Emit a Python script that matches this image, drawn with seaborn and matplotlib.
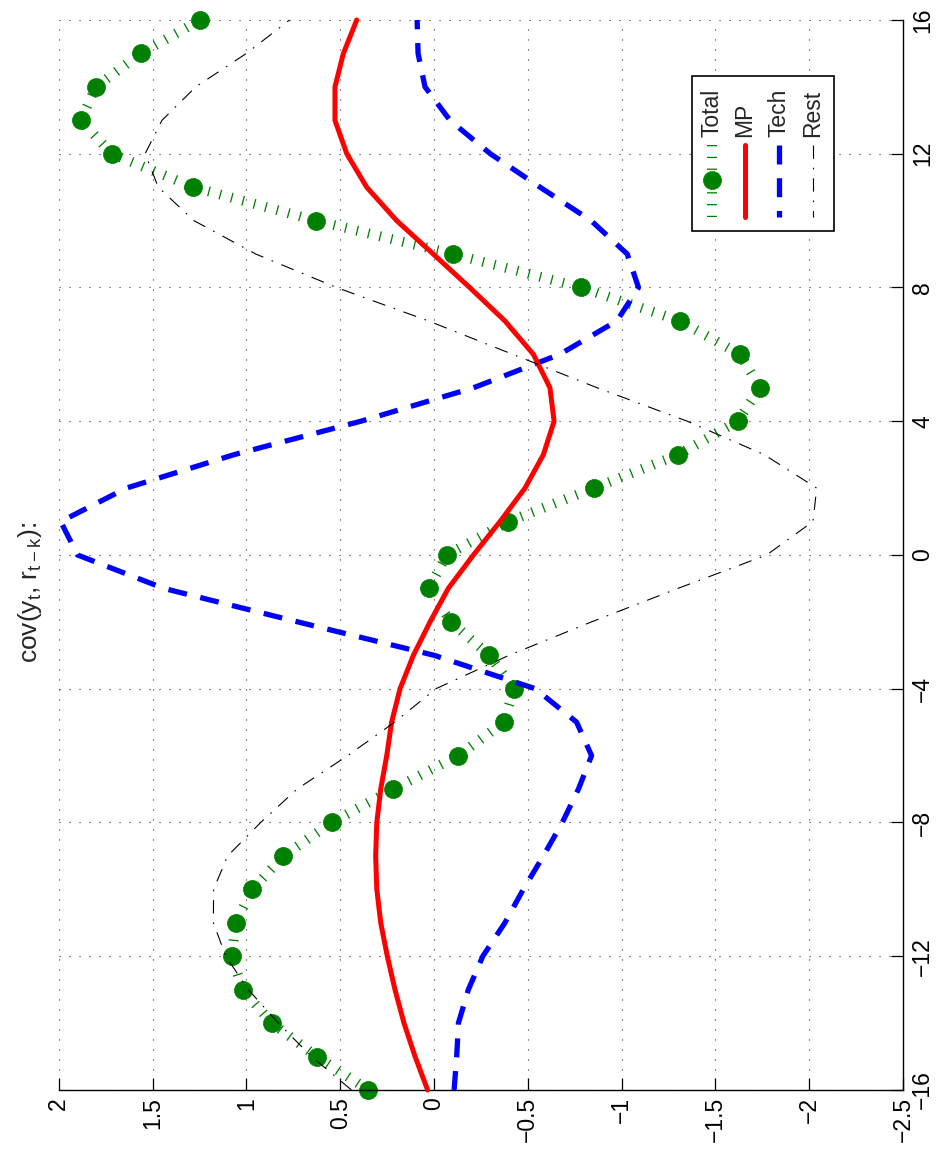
import numpy as np
import pandas as pd
import matplotlib
matplotlib.use("Agg")
import matplotlib.pyplot as plt
import seaborn as sns
from matplotlib.patches import Rectangle
from matplotlib.lines import Line2D

# ---------------- data ----------------
lags = list(range(-16, 17))
total = [0.35, 0.625, 0.865, 1.02, 1.078, 1.057, 0.969, 0.803, 0.545, 0.217, -0.13,
         -0.373, -0.426, -0.295, -0.089, 0.028,
         -0.068, -0.396, -0.853, -1.302, -1.619, -1.738, -1.631, -1.311, -0.784,
         -0.103, 0.631, 1.283, 1.718, 1.882, 1.803, 1.563, 1.247]
mp = [0.034, 0.101, 0.16, 0.208, 0.249, 0.284, 0.305, 0.311, 0.305, 0.284, 0.252,
      0.226, 0.181, 0.11, 0.021, -0.076,
      -0.21, -0.352, -0.485, -0.583, -0.64, -0.618, -0.53, -0.378, -0.19,
      0.004, 0.199, 0.359, 0.465, 0.528, 0.528, 0.483, 0.412]
tech = [-0.107, -0.121, -0.13, -0.183, -0.26, -0.378, -0.476, -0.583, -0.684, -0.77,
        -0.84, -0.76, -0.54, 0.0, 0.727, 1.44,
        1.90, 1.99, 1.64, 1.066, 0.39, -0.21, -0.67, -0.975, -1.09,
        -1.03, -0.837, -0.565, -0.30, -0.085, 0.048, 0.085, 0.09]
rest = [0.44, 0.653, 0.83, 0.99, 1.11, 1.176, 1.175, 1.10, 0.924, 0.73, 0.46,
        0.21, -0.01, -0.40, -0.84, -1.30,
        -1.773, -2.02, -2.04, -1.76, -1.35, -0.87, -0.42, 0.03, 0.52,
        0.95, 1.28, 1.47, 1.54, 1.45, 1.27, 1.0, 0.77]

series_names = ["Total", "MP", "Tech", "Rest"]
value_ticks = [2, 1.5, 1, 0.5, 0, -0.5, -1, -1.5, -2, -2.5]
value_tick_labels = ["2", "1.5", "1", "0.5", "0", "\u22120.5", "\u22121",
                     "\u22121.5", "\u22122", "\u22122.5"]
lag_ticks = [-16, -12, -8, -4, 0, 4, 8, 12, 16]
lag_tick_labels = ["\u221216", "\u221212", "\u22128", "\u22124", "0", "4", "8", "12", "16"]
title_text = "cov(y$_{t}$, r$_{t-k}$):"

df = pd.DataFrame({"k": lags, "Total": total, "MP": mp, "Tech": tech, "Rest": rest})

# ---------------- style ----------------
sns.set_style("white")
plt.rcParams["font.family"] = ["Liberation Sans", "DejaVu Sans"]
plt.rcParams["mathtext.default"] = "regular"
plt.rcParams["axes.unicode_minus"] = True

GREEN = (0, 0.5, 0)
styles = {
    "Total": dict(color=GREEN, linewidth=7.2, linestyle=(0, (0.13, 1.05)),
                  dash_capstyle="butt", marker="o", markersize=13,
                  markerfacecolor=GREEN, markeredgecolor=GREEN, markeredgewidth=0.5, zorder=2),
    "Tech": dict(color="#0000ff", linewidth=3.8, linestyle=(0, (3.6, 2.6)),
                 dash_capstyle="butt", zorder=3),
    "MP": dict(color="#ff0000", linewidth=3.6, linestyle="-", zorder=4),
    "Rest": dict(color="black", linewidth=0.8, linestyle=(0, (12, 8, 1.5, 8)), zorder=5),
}

fig = plt.figure(figsize=(9.38, 11.55), dpi=100)
ax = fig.add_axes([0.0627, 0.0563, 0.9, 0.9264])

ax.grid(True, color="#333333", linewidth=0.8, linestyle=(0, (1, 8)))
ax.set_axisbelow(True)

for name in ["Total", "Tech", "MP", "Rest"]:
    sns.lineplot(data=df, x=name, y="k", orient="y", errorbar=None, ax=ax,
                 clip_on=False, **styles[name])

ax.set_xlim(2, -2.5)
ax.set_ylim(-16, 16)
ax.set_xlabel("")
ax.set_ylabel("")

ax.set_xticks(value_ticks)
ax.set_xticklabels(value_tick_labels, rotation=90)
ax.yaxis.tick_right()
ax.set_yticks(lag_ticks)
ax.set_yticklabels(lag_tick_labels, rotation=90, va="center", ha="left")
ax.tick_params(direction="in", length=8.6, width=0.9, labelsize=16.5, colors="black",
               top=False, left=False, bottom=True, right=True)
ax.tick_params(axis="x", pad=5)
ax.tick_params(axis="y", pad=6)

for s in ["top", "left"]:
    ax.spines[s].set_visible(False)
for s in ["bottom", "right"]:
    ax.spines[s].set_visible(True)
    ax.spines[s].set_color("black")
    ax.spines[s].set_linewidth(1.0)

# title (rotated, on the left)
ax.text(-0.034, 0.465, title_text, rotation=90, ha="center", va="center",
        fontsize=19, transform=ax.transAxes)

# ---------------- legend (rotated layout) ----------------
box = Rectangle((0.7497, 0.8028), 0.9183 - 0.7497, 0.9477 - 0.8028,
                transform=ax.transAxes, facecolor="white", edgecolor="black",
                linewidth=1.2, zorder=8)
ax.add_patch(box)
leg_x = [0.7742, 0.8128, 0.8527, 0.8928]
y0, y1 = 0.8162, 0.8832
for name, xpos in zip(series_names, leg_x):
    st = dict(styles[name])
    for key in ["zorder", "marker", "markersize", "markerfacecolor",
                "markeredgecolor", "markeredgewidth"]:
        st.pop(key, None)
    ln = Line2D([xpos, xpos], [y1, y0], transform=ax.transAxes, zorder=9, **st)
    ax.add_line(ln)
    if name == "Total":
        mk = Line2D([xpos], [0.8505], transform=ax.transAxes, zorder=10, linestyle="none",
                    marker="o", markersize=13, markerfacecolor=GREEN,
                    markeredgecolor=GREEN, markeredgewidth=0.5)
        ax.add_line(mk)
    ax.text(xpos, 0.891, name, rotation=90, ha="center", va="bottom",
            fontsize=16.5, transform=ax.transAxes, zorder=10)

fig.savefig("out.png", dpi=100)
